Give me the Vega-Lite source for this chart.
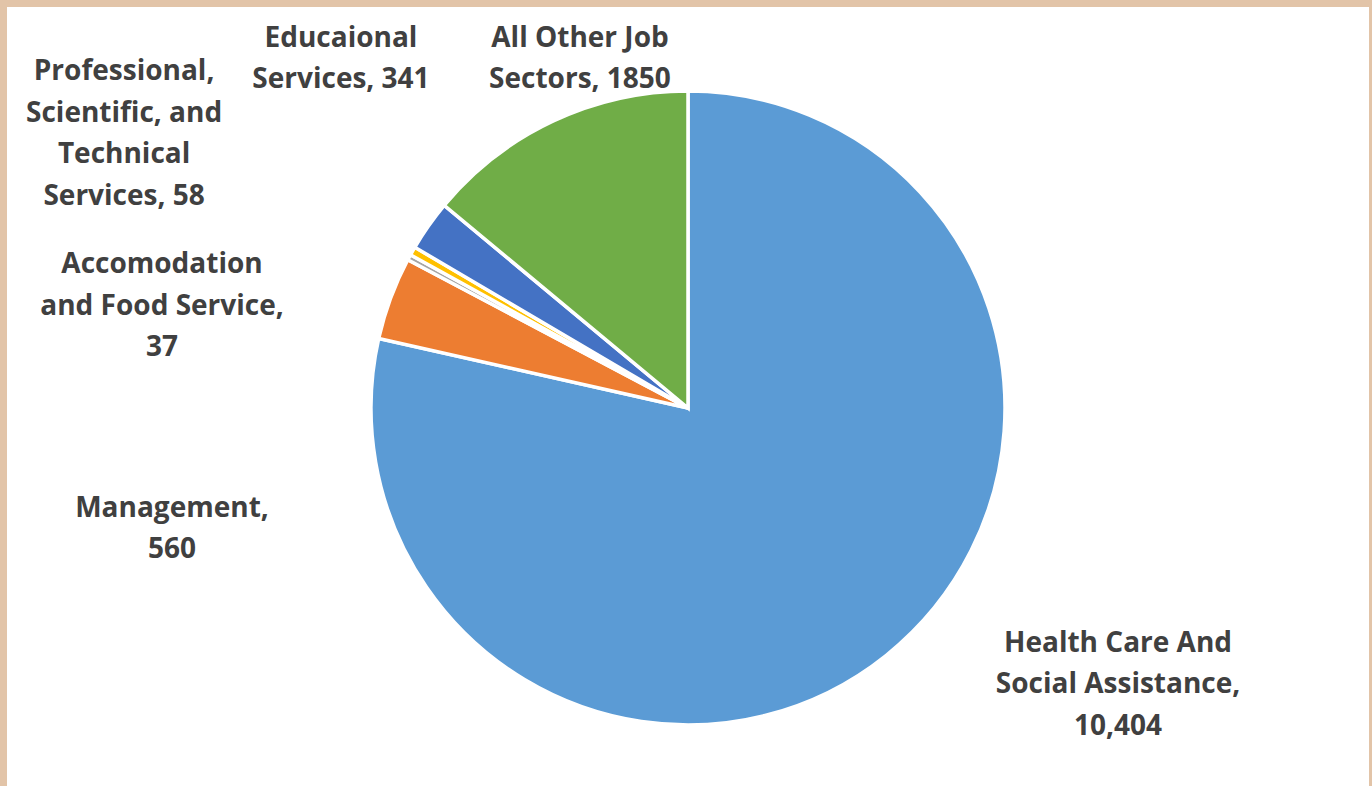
{
  "$schema": "https://vega.github.io/schema/vega-lite/v6.json",
  "autosize": {"type": "none"},
  "padding": {"left": 7, "top": 7, "right": 3, "bottom": -23},
  "width": 1362,
  "height": 802,
  "background": "#E2C4A8",
  "view": {"fill": "white", "stroke": null},
  "config": {
    "text": {"font": "Open Sans", "fontSize": 28, "fontWeight": "bold", "color": "#404040", "lineBreak": "\n", "lineHeight": 41.5, "align": "center", "baseline": "middle"}
  },
  "data": {
    "values": [
      {"rank": 1, "sector": "Health Care And Social Assistance", "value": 10404, "label": "Health Care And\nSocial Assistance,\n10,404"},
      {"rank": 2, "sector": "Management", "value": 560, "label": "Management,\n560"},
      {"rank": 3, "sector": "Accomodation and Food Service", "value": 37, "label": "Accomodation\nand Food Service,\n37"},
      {"rank": 4, "sector": "Professional, Scientific, and Technical Services", "value": 58, "label": "Professional,\nScientific, and\nTechnical\nServices, 58"},
      {"rank": 5, "sector": "Educaional Services", "value": 341, "label": "Educaional\nServices, 341"},
      {"rank": 6, "sector": "All Other Job Sectors", "value": 1850, "label": "All Other Job\nSectors, 1850"}
    ]
  },
  "encoding": {
    "theta": {"field": "value", "type": "quantitative", "stack": true},
    "order": {"field": "rank", "type": "quantitative"}
  },
  "layer": [
    {
      "mark": {"type": "arc", "radius": 317, "stroke": "white", "strokeWidth": 3.5},
      "encoding": {
        "color": {
          "field": "sector", "type": "nominal", "legend": null,
          "scale": {
            "domain": ["Health Care And Social Assistance", "Management", "Accomodation and Food Service", "Professional, Scientific, and Technical Services", "Educaional Services", "All Other Job Sectors"],
            "range": ["#5B9BD5", "#ED7D31", "#A5A5A5", "#FFC000", "#4472C4", "#70AD47"]
          }
        }
      }
    },
    {
      "mark": {"type": "text", "radius": 316, "dx": 232.6, "dy": -10.8},
      "encoding": {"text": {"condition": {"test": "datum.rank === 1", "field": "label"}, "value": ""}}
    },
    {
      "mark": {"type": "text", "radius": 316, "dx": -219.6, "dy": 210.25},
      "encoding": {"text": {"condition": {"test": "datum.rank === 2", "field": "label"}, "value": ""}}
    },
    {
      "mark": {"type": "text", "radius": 316, "dx": -248, "dy": 7.3},
      "encoding": {"text": {"condition": {"test": "datum.rank === 3", "field": "label"}, "value": ""}}
    },
    {
      "mark": {"type": "text", "radius": 316, "dx": -289.4, "dy": -179.5},
      "encoding": {"text": {"condition": {"test": "datum.rank === 4", "field": "label"}, "value": ""}}
    },
    {
      "mark": {"type": "text", "radius": 316, "dx": -88.5, "dy": -187.55},
      "encoding": {"text": {"condition": {"test": "datum.rank === 5", "field": "label"}, "value": ""}}
    },
    {
      "mark": {"type": "text", "radius": 316, "dx": 26.2, "dy": -83.15},
      "encoding": {"text": {"condition": {"test": "datum.rank === 6", "field": "label"}, "value": ""}}
    }
  ]
}
